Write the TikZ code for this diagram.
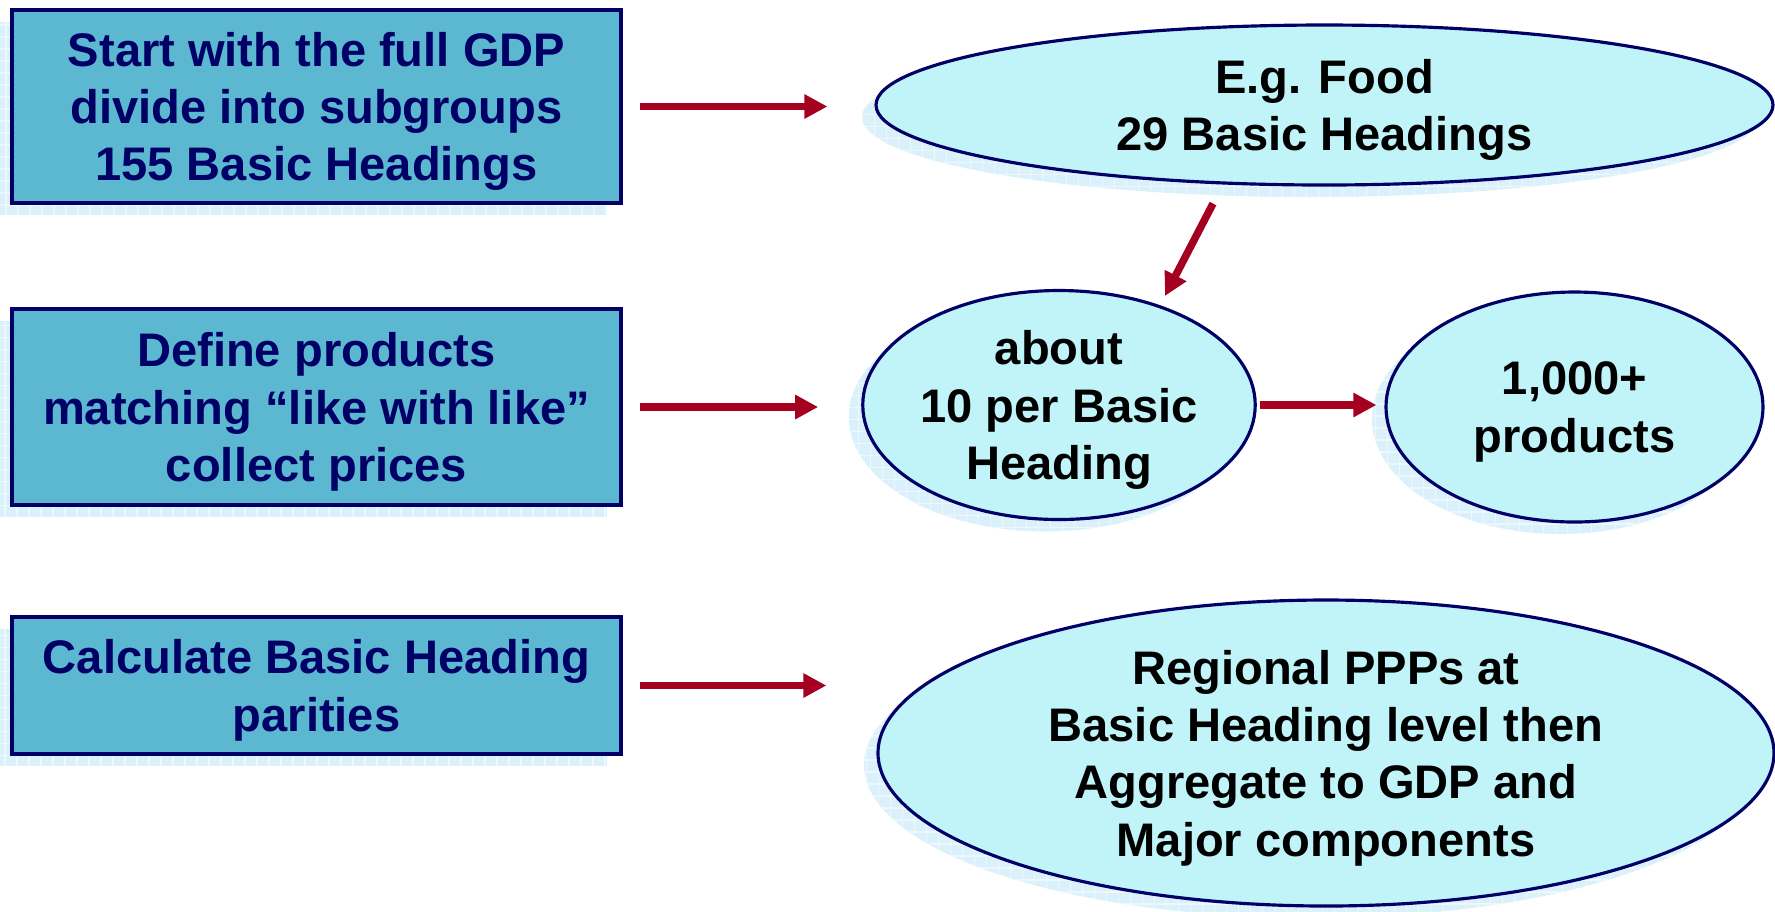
\documentclass[tikz,border=0pt]{standalone}
\usepackage{fontspec}
\setmainfont{Liberation Sans}
\usetikzlibrary{calc,shapes.geometric,shadows,arrows.meta}

\definecolor{boxfill}{RGB}{92,184,208}
\definecolor{ovalfill}{RGB}{192,244,248}
\definecolor{navy}{RGB}{0,0,102}
\definecolor{arrowred}{RGB}{166,0,33}
\definecolor{shadowblue}{RGB}{218,240,250}
\definecolor{gridblue}{RGB}{236,248,253}

\tikzset{
    txt/.style={font=\bfseries\fontsize{13.4}{16.3}\selectfont, align=center, text depth=0pt},
    shade/.style={drop shadow={shadow xshift=-0.14cm, shadow yshift=-0.12cm, fill=shadowblue, opacity=1,
        path picture={\draw[gridblue, line width=0.4pt, step=0.12cm] (path picture bounding box.south west) grid (path picture bounding box.north east);}}},
    stepbox/.style={txt, shade, draw=navy, line width=0.9pt, fill=boxfill, text=navy, inner sep=0pt, minimum width=6.09cm},
    oval/.style={txt, shade, ellipse, draw=navy, line width=0.9pt, fill=ovalfill, text=black, inner sep=0pt},
    redarrow/.style={arrowred, line width=0.075cm, -{Triangle[length=0.23cm,width=0.23cm]}}
}

\begin{document}
\begin{tikzpicture}
    \useasboundingbox (0,0) rectangle (17.75,-9.11);

    % Steps on the left
    \node[stepbox, minimum height=1.93cm] (start) at (3.165,-1.065) {Start with the full GDP\\divide into subgroups\\155 Basic Headings};
    \node[stepbox, minimum height=1.96cm] (define) at (3.165,-4.07) {Define products\\matching ``like with like''\\collect prices};
    \node[stepbox, minimum height=1.37cm] (calc) at (3.165,-6.855) {Calculate Basic Heading\\parities};

    % Results on the right
    \node[oval, minimum width=8.97cm, minimum height=1.60cm] (food) at (13.245,-1.05) {E.g. Food\\29 Basic Headings};
    \node[oval, minimum width=3.77cm, minimum height=2.29cm] (about) at (10.59,-4.05) {about\\10 per Basic\\Heading};
    \node[oval, minimum width=3.77cm, minimum height=2.30cm] (prod) at (15.745,-4.07) {1,000+\\products};
    \node[oval, minimum width=8.96cm, minimum height=3.06cm] (ppp) at (13.26,-7.53) {Regional PPPs at\\Basic Heading level then\\Aggregate to GDP and\\Major components};

    % Draw arrows
    \draw[redarrow, shorten <=0.17cm, shorten >=0.47cm] (start.east) -- (start.east -| food.west);
    \draw[redarrow, shorten <=0.17cm, shorten >=0.43cm] (define.east) -- (define.east -| about.west);
    \draw[redarrow, shorten <=0.17cm, shorten >=0.50cm] (calc.east) -- (calc.east -| ppp.west);
    \draw[redarrow] ([xshift=-1.115cm,yshift=-0.17cm]food.south) -- ([xshift=1.06cm,yshift=-0.07cm]about.north);
    \draw[redarrow, shorten <=0.03cm, shorten >=0.08cm] (about.east) -- (about.east -| prod.west);

\end{tikzpicture}
\end{document}
